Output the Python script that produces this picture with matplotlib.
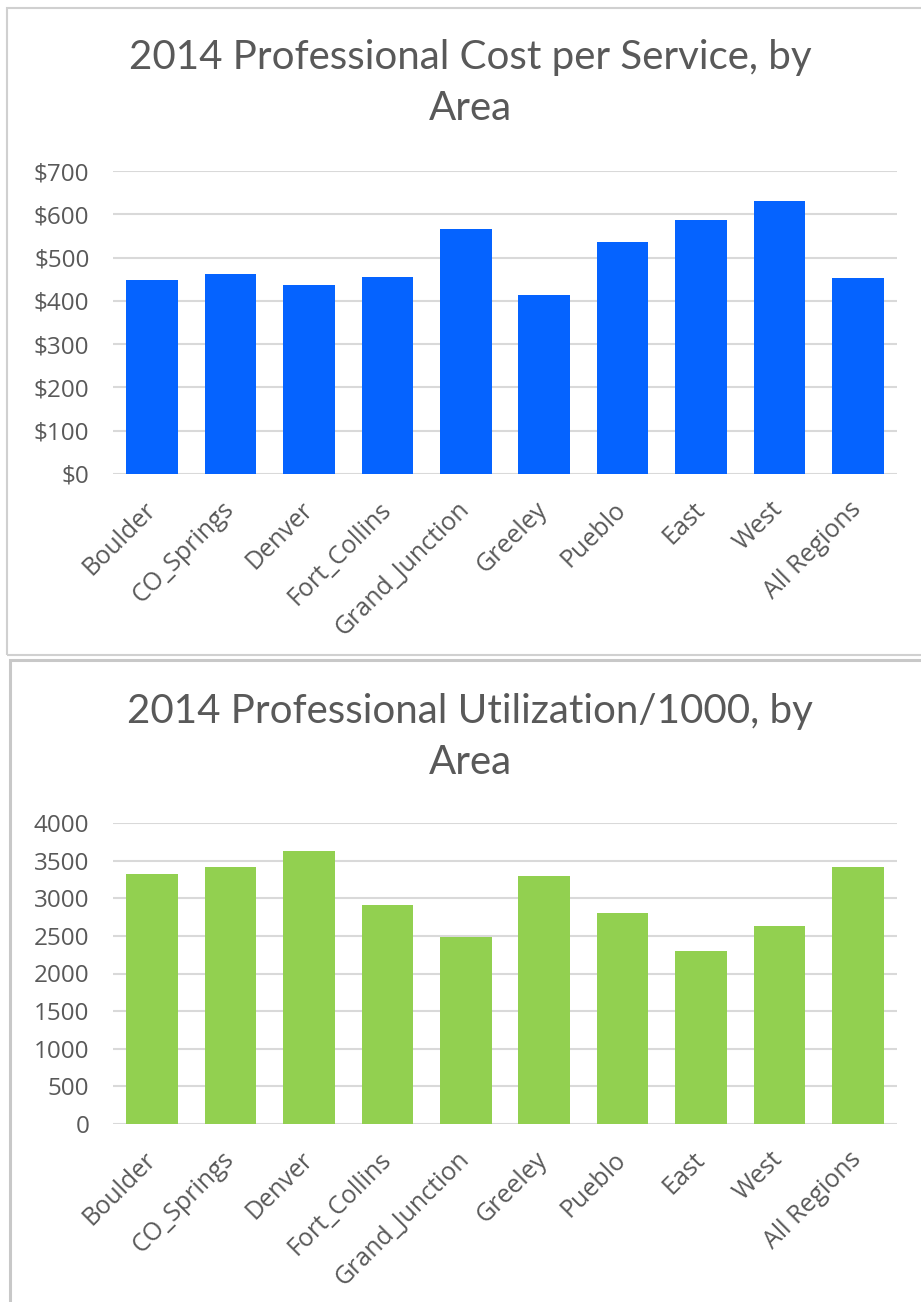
import numpy as np
import matplotlib.pyplot as plt
from matplotlib.patches import Rectangle

areas = ["Boulder", "CO_Springs", "Denver", "Fort_Collins", "Grand_Junction",
         "Greeley", "Pueblo", "East", "West", "All Regions"]
cost = [449, 463, 436, 456, 566, 413, 537, 586, 630, 453]
util = [3326, 3420, 3632, 2915, 2481, 3300, 2800, 2303, 2631, 3420]

W, H = 921, 1302
plt.rcParams['font.family'] = ['Open Sans', 'DejaVu Sans']
txt = '#595959'
grid = '#D9D9D9'

fig = plt.figure(figsize=(W/100, H/100), dpi=100)
fig.patch.set_facecolor('white')

# chart frames
fig.patches.append(Rectangle((7/W, 1-655/H), (W+10)/W, 647/H, transform=fig.transFigure,
                             fill=False, ec='#D0D0D0', lw=1.5))
fig.patches.append(Rectangle((10/W, 1-(H+20)/H), (W+10)/W, (H+20-660)/H, transform=fig.transFigure,
                             fill=False, ec='#C8C8C8', lw=2.2))

def panel(top, bottom, vals, color, yticks, fmt, title_y, title):
    ax = fig.add_axes([113/W, 1-bottom/H, (897-113)/W, (bottom-top)/H])
    x = np.arange(len(areas))
    ax.bar(x, vals, width=0.66, color=color, zorder=3)
    ax.set_xlim(-0.5, len(areas)-0.5)
    ax.set_ylim(yticks[0], yticks[-1])
    ax.set_yticks(yticks)
    ax.set_yticklabels([fmt(v) for v in yticks], fontsize=17.5, color=txt)
    ax.set_xticks(x)
    ax.set_xticklabels(areas, rotation=45, ha='right', va='center',
                       rotation_mode='anchor', fontsize=18, color=txt)
    ax.tick_params(axis='y', length=0, pad=17)
    ax.tick_params(axis='x', length=0, pad=23)
    ax.yaxis.grid(True, color=grid, lw=1.5, zorder=0)
    for s in ax.spines.values():
        s.set_visible(False)
    for i, line in enumerate(title.split('\n')):
        fig.text(470/W, 1-(title_y+50*i)/H, line, ha='center', va='center',
                 fontsize=29, color=txt, family=['Lato', 'DejaVu Sans'])
    return ax

panel(171, 474, cost, '#0563FF', list(range(0, 701, 100)), lambda v: f"${v}",
      58, "2014 Professional Cost per Service, by\nArea")
panel(823, 1124, util, '#92D050', list(range(0, 4001, 500)), lambda v: f"{v}",
      712, "2014 Professional Utilization/1000, by\nArea")

fig.savefig("out.png", dpi=100)
